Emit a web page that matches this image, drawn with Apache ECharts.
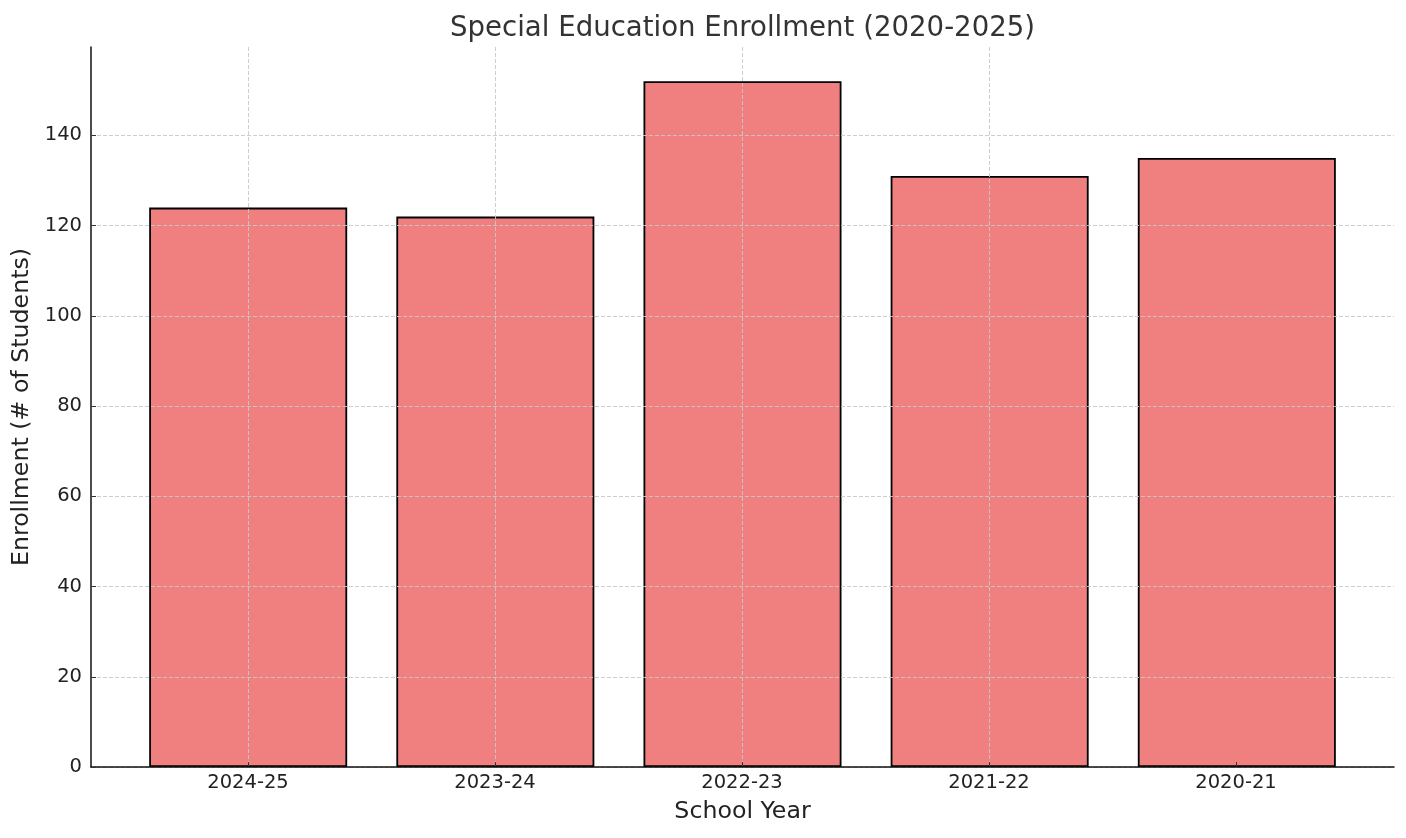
<!DOCTYPE html>
<html>
<head>
<meta charset="utf-8">
<script src="https://cdn.jsdelivr.net/npm/echarts@6/dist/echarts.min.js"></script>
<style>
html,body{margin:0;padding:0;background:#fff;}
#chart{width:1406px;height:838px;}
</style>
</head>
<body>
<div id="chart"></div>
<script>
const categories = ['2024-25', '2023-24', '2022-23', '2021-22', '2020-21'];
const enrollment = [124, 122, 152, 131, 135];
const titleText = 'Special Education Enrollment (2020-2025)';
const xAxisName = 'School Year';
const yAxisName = 'Enrollment (# of Students)';

const yMax = 159.6;
const font = 'DejaVu Sans';
const gridLine = { show: true, showMaxLine: false, lineStyle: { color: '#c8c8c8', type: [4, 2], width: 0.9 } };

const chart = echarts.init(document.getElementById('chart'), null, { renderer: 'canvas' });
chart.setOption({
  animation: false,
  backgroundColor: '#ffffff',
  title: {
    text: titleText, left: 445, top: 10,
    textStyle: { fontFamily: font, fontSize: 27.6, fontWeight: 'normal', color: '#333333' }
  },
  grid: [
    { left: 91, right: 12, top: 47, bottom: 71 },
    { left: 248, right: 170, top: 47, bottom: 71 }
  ],
  xAxis: [
    {
      type: 'value', gridIndex: 0, min: -0.636, max: 4.636, z: 6,
      axisLine: { show: true, onZero: false, lineStyle: { color: '#111', width: 1.5 } },
      axisTick: { show: false }, axisLabel: { show: false }, splitLine: { show: false },
      name: xAxisName, nameLocation: 'middle', nameGap: 33,
      nameTextStyle: { fontFamily: font, fontSize: 23.7, color: '#222' }
    },
    {
      type: 'category', gridIndex: 1, data: categories, boundaryGap: false, z: 5,
      axisLine: { show: false },
      axisTick: { show: true, inside: true, length: 5, lineStyle: { color: '#333' } },
      axisLabel: { fontFamily: font, fontSize: 19.5, color: '#222', margin: 6 },
      splitLine: gridLine
    }
  ],
  yAxis: [
    {
      type: 'value', gridIndex: 0, min: 0, max: yMax, interval: 20, z: 6,
      axisLine: { show: true, onZero: false, lineStyle: { color: '#111', width: 1.5 } },
      axisTick: { show: true, inside: true, length: 5, lineStyle: { color: '#333' } },
      axisLabel: { fontFamily: font, fontSize: 19.5, color: '#222', margin: 9,
        showMaxLabel: false },
      splitLine: gridLine,
      name: yAxisName, nameLocation: 'middle', nameGap: 55,
      nameTextStyle: { fontFamily: font, fontSize: 23.7, color: '#222' }
    },
    {
      type: 'value', gridIndex: 1, min: 0, max: yMax, show: false
    }
  ],
  series: [{
    type: 'bar', xAxisIndex: 0, yAxisIndex: 0, z: 2,
    barWidth: 198,
    data: enrollment.map((v, i) => [i, v]),
    itemStyle: { color: '#F08080', borderColor: '#000', borderWidth: 1.8 }
  }]
});
</script>
</body>
</html>
